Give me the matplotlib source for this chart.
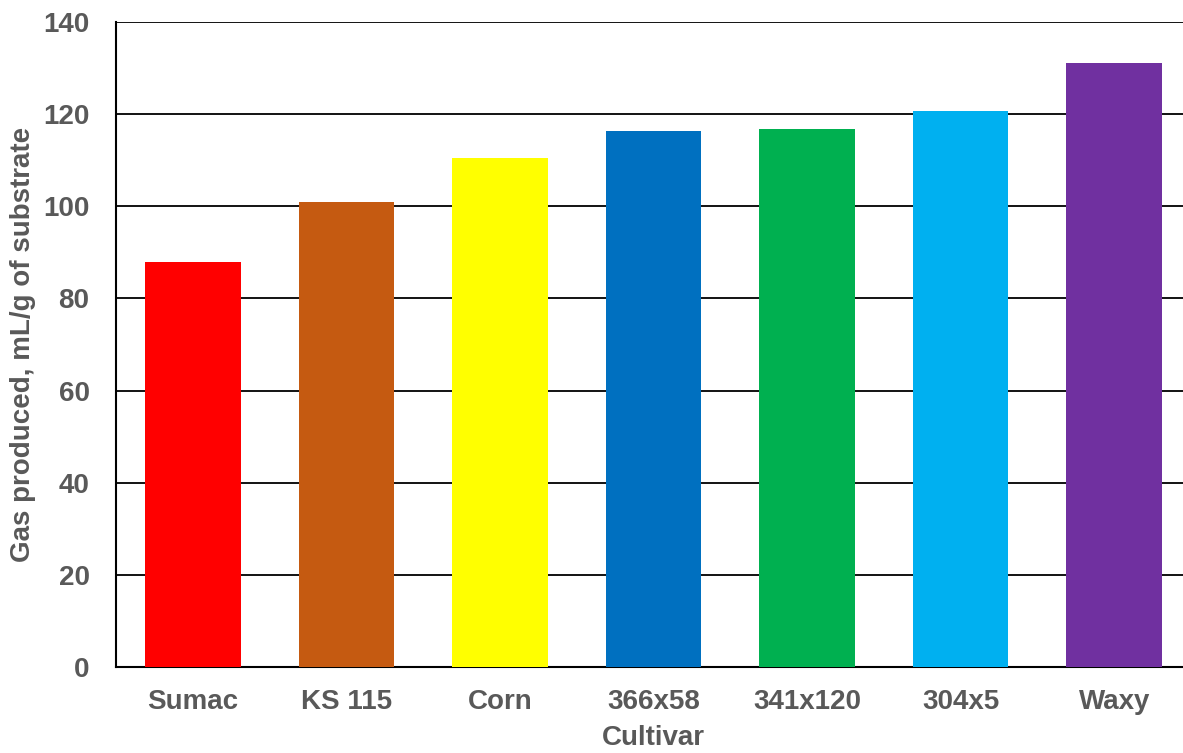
import matplotlib.pyplot as plt

cultivars = ['Sumac', 'KS 115', 'Corn', '366x58', '341x120', '304x5', 'Waxy']
gas_ml = [87.9, 100.9, 110.5, 116.3, 116.8, 120.7, 131.1]
bar_colors = ['#FF0000', '#C55A11', '#FFFF00', '#0070C0', '#00B050', '#00B0F0', '#7030A0']
yticks = [0, 20, 40, 60, 80, 100, 120, 140]

plt.rcParams['font.family'] = ['Liberation Sans', 'DejaVu Sans']
grey = '#595959'

fig = plt.figure(figsize=(11.83, 7.53), dpi=100)
# plot area runs a little past the right edge of the figure
ax = fig.add_axes([116 / 1183, 86 / 753, 1075 / 1183, 645 / 753])

x = range(len(cultivars))
ax.bar(x, gas_ml, width=0.623, color=bar_colors, zorder=3)

ax.set_xlim(-0.5, len(cultivars) - 0.5)
ax.set_ylim(0, 140)
ax.set_yticks(yticks)
ax.yaxis.grid(True, color='black', lw=1.3, zorder=1)
ax.set_axisbelow(True)

ax.set_xticks(list(x))
ax.set_xticklabels(cultivars)
ax.tick_params(length=0, labelsize=20, labelcolor=grey)
for lab in ax.get_xticklabels() + ax.get_yticklabels():
    lab.set_fontweight('bold')
ax.tick_params(axis='x', pad=16)
ax.tick_params(axis='y', pad=19)

for side in ['top', 'right']:
    ax.spines[side].set_visible(False)
for side in ['left', 'bottom']:
    ax.spines[side].set_color('black')
    ax.spines[side].set_linewidth(1.5)

ax.set_xlabel('Cultivar', fontsize=20, fontweight='bold', color=grey, labelpad=7)
ax.set_ylabel('Gas produced, mL/g of substrate', fontsize=20, fontweight='bold', color=grey, labelpad=5)

fig.savefig('out.png', dpi=100)
